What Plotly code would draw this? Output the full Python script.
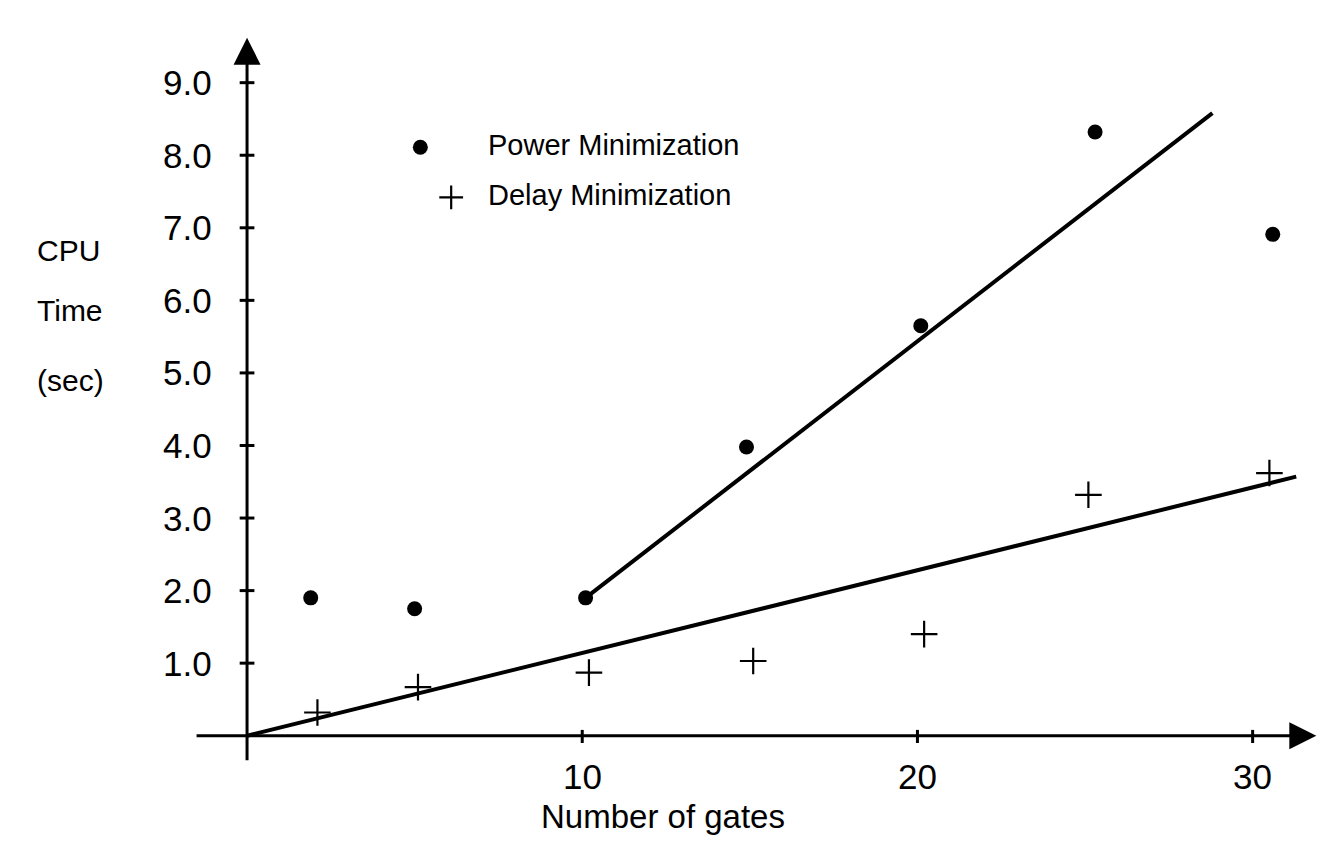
import plotly.graph_objects as go

# ---------------- data ----------------
power_x = [1.9, 5.0, 10.1, 14.9, 20.1, 25.3, 30.6]
power_y = [1.90, 1.75, 1.90, 3.98, 5.65, 8.32, 6.91]

delay_x = [2.1, 5.1, 10.2, 15.1, 20.2, 25.1, 30.5]
delay_y = [0.32, 0.67, 0.87, 1.03, 1.40, 3.32, 3.62]

power_fit_x = [10.1, 28.8]
power_fit_y = [1.90, 8.58]
delay_fit_x = [0.0, 31.3]
delay_fit_y = [0.0, 3.57]

x_tick_vals = [10, 20, 30]
x_tick_labels = ["10", "20", "30"]
y_tick_vals = [1, 2, 3, 4, 5, 6, 7, 8, 9]
y_tick_labels = ["1.0", "2.0", "3.0", "4.0", "5.0", "6.0", "7.0", "8.0", "9.0"]

series_names = ["Power Minimization", "Delay Minimization"]
y_title_lines = ["CPU", "Time", "(sec)"]
x_title = "Number of gates"

# ---------------- layout constants ----------------
FONT = "Liberation Sans, Arial, Helvetica, sans-serif"
X_RANGE = [-2.0, 31.95]
Y_RANGE = [-0.5, 9.85]
X_AXIS_EXT = [-1.55, 31.9]
Y_AXIS_EXT = [-0.36, 9.62]

fig = go.Figure()

# fit lines
fig.add_trace(go.Scatter(x=power_fit_x, y=power_fit_y, mode="lines",
                         line=dict(color="black", width=4), showlegend=False,
                         hoverinfo="skip"))
fig.add_trace(go.Scatter(x=delay_fit_x, y=delay_fit_y, mode="lines",
                         line=dict(color="black", width=4), showlegend=False,
                         hoverinfo="skip"))

# data points
fig.add_trace(go.Scatter(x=power_x, y=power_y, mode="markers", name=series_names[0],
                         marker=dict(symbol="circle", size=15, color="black"),
                         showlegend=False))
fig.add_trace(go.Scatter(x=delay_x, y=delay_y, mode="markers", name=series_names[1],
                         marker=dict(symbol="cross-thin", size=19, color="black",
                                     line=dict(color="black", width=2.2)),
                         showlegend=False))

# legend keys (custom, as in the original)
LEG = [(5.17, 8.11, 7.13, 8.14), (6.09, 7.42, 7.13, 7.45)]
fig.add_trace(go.Scatter(x=[LEG[0][0]], y=[LEG[0][1]], mode="markers",
                         marker=dict(symbol="circle", size=15, color="black"),
                         showlegend=False, hoverinfo="skip"))
fig.add_trace(go.Scatter(x=[LEG[1][0]], y=[LEG[1][1]], mode="markers",
                         marker=dict(symbol="cross-thin", size=17, color="black",
                                     line=dict(color="black", width=2.2)),
                         showlegend=False, hoverinfo="skip"))

annotations = []
for i, name in enumerate(series_names):
    annotations.append(dict(x=LEG[i][2], y=LEG[i][3], xref="x", yref="y", text=name,
                            showarrow=False, xanchor="left", yanchor="middle",
                            font=dict(family=FONT, size=29, color="black")))

# axes with arrows
annotations.append(dict(x=X_AXIS_EXT[1], y=0, ax=X_AXIS_EXT[0], ay=0,
                        xref="x", yref="y", axref="x", ayref="y", text="",
                        showarrow=True, arrowhead=2, arrowsize=1.8, arrowwidth=3,
                        arrowcolor="black"))
annotations.append(dict(x=0, y=Y_AXIS_EXT[1], ax=0, ay=Y_AXIS_EXT[0],
                        xref="x", yref="y", axref="x", ayref="y", text="",
                        showarrow=True, arrowhead=2, arrowsize=1.8, arrowwidth=3,
                        arrowcolor="black"))

shapes = []
# tick marks
for v in y_tick_vals:
    shapes.append(dict(type="line", xref="x", yref="y", x0=-0.22, x1=0.22, y0=v, y1=v,
                       line=dict(color="black", width=3)))
for v in x_tick_vals:
    shapes.append(dict(type="line", xref="x", yref="y", x0=v, x1=v, y0=-0.1, y1=0.08,
                       line=dict(color="black", width=3)))

# tick labels
for v, t in zip(y_tick_vals, y_tick_labels):
    annotations.append(dict(x=0, y=v, xref="x", yref="y", text=t, showarrow=False,
                            xanchor="right", yanchor="middle", xshift=-33,
                            font=dict(family=FONT, size=35, color="black")))
for v, t in zip(x_tick_vals, x_tick_labels):
    annotations.append(dict(x=v, y=0, xref="x", yref="y", text=t, showarrow=False,
                            xanchor="center", yanchor="middle", yshift=-41,
                            font=dict(family=FONT, size=35, color="black")))

# axis titles (left block of three lines)
for t, yy in zip(y_title_lines, [6.69, 5.86, 4.9]):
    annotations.append(dict(x=0, y=yy, xref="x", yref="y", text=t,
                            showarrow=False, xanchor="left", yanchor="middle",
                            xshift=-212,
                            font=dict(family=FONT, size=30, color="black")))
annotations.append(dict(x=12.4, y=0, xref="x", yref="y", text=x_title, showarrow=False,
                        xanchor="center", yanchor="middle", yshift=-81,
                        font=dict(family=FONT, size=33, color="black")))

fig.update_layout(
    width=1312, height=837,
    margin=dict(l=172, r=2, t=13, b=73),
    paper_bgcolor="white", plot_bgcolor="white",
    xaxis=dict(range=X_RANGE, visible=False, fixedrange=True),
    yaxis=dict(range=Y_RANGE, visible=False, fixedrange=True),
    annotations=annotations, shapes=shapes,
    showlegend=False,
)

fig.write_html("out.html")
